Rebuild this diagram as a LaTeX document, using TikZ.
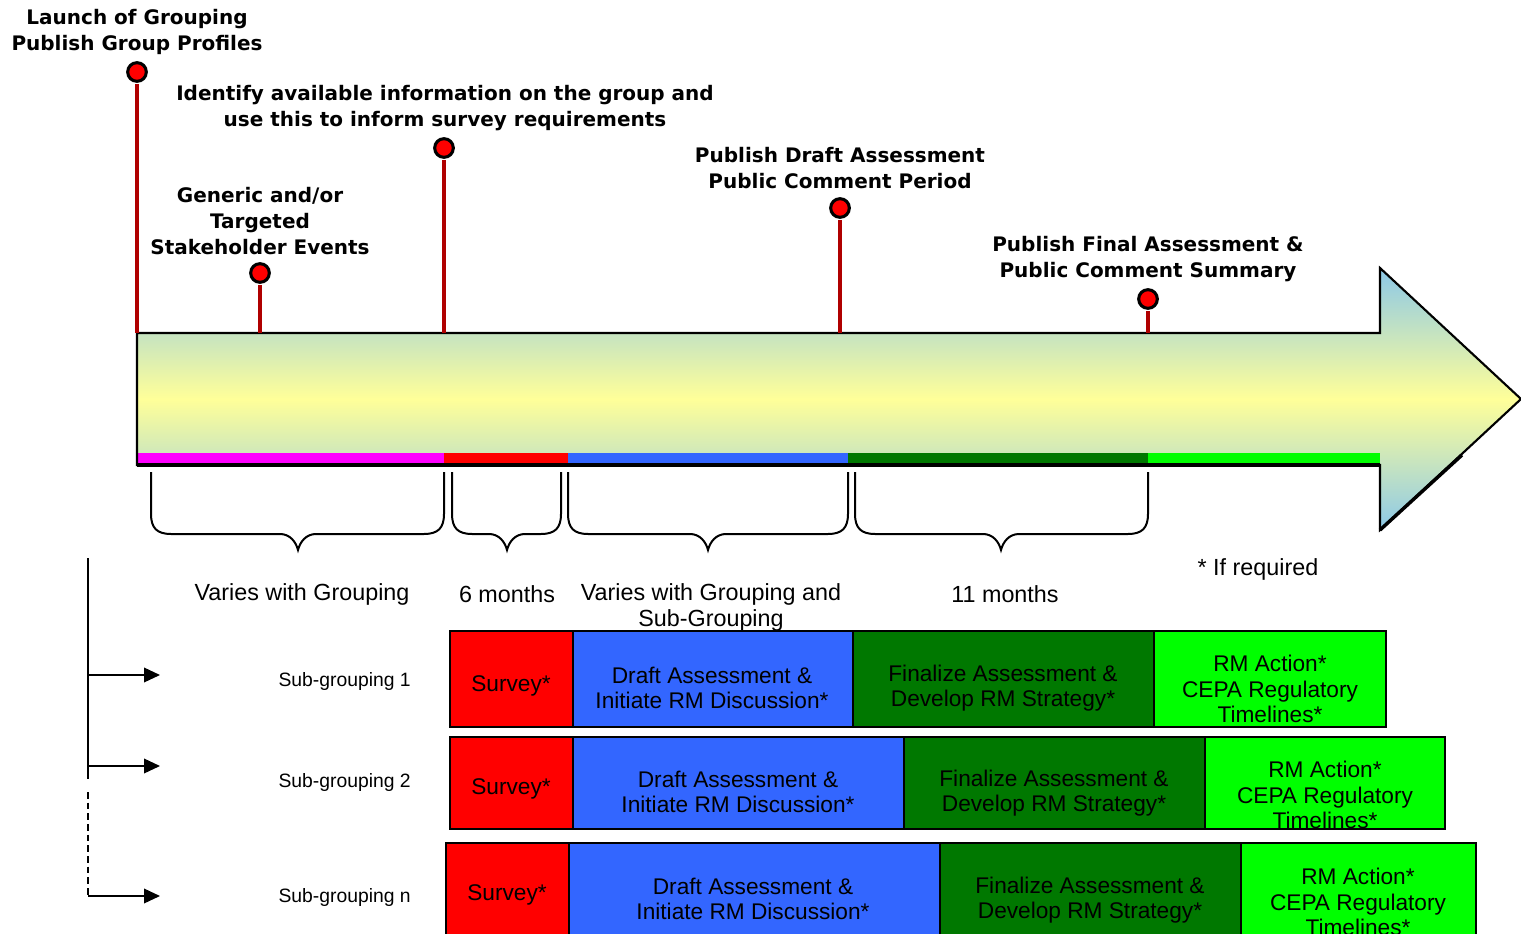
\documentclass[tikz,border=0pt]{standalone}
\usepackage{fontspec}
\setmainfont{Liberation Sans}
\newfontfamily\dvs{DejaVu Sans}
\usetikzlibrary{arrows.meta}
\definecolor{stemred}{HTML}{B00000}
\definecolor{pinred}{HTML}{FF0000}
\definecolor{arrblue}{HTML}{8CC8E8}
\definecolor{arryel}{HTML}{FFFF99}
\definecolor{bblue}{HTML}{3366FF}
\definecolor{dgreen}{HTML}{007800}
\definecolor{lgreen}{HTML}{00FF00}
\definecolor{magen}{HTML}{FF00FF}
\tikzset{
 lbl/.style={font=\dvs\bfseries\fontsize{15}{19.5}\selectfont, align=center, inner sep=0pt},
 pinnode/.style={circle, fill=pinred, draw=black, line width=2.3pt, minimum size=14pt, inner sep=0pt},
 stem/.style={draw=stemred, line width=2.8pt, shorten <=1.1pt},
 bracestyle/.style={draw=black, line width=1.5pt},
 note/.style={font=\fontsize{17.5}{19.5}\selectfont, align=center, inner sep=0pt},
 sbox/.style={draw=black, line width=1.5pt, inner sep=0pt},
 btxt/.style={font=\fontsize{17}{19.2}\selectfont, align=center, inner sep=0pt},
 sublbl/.style={font=\fontsize{14.5}{16}\selectfont, anchor=east, inner sep=0pt},
 arr/.style={draw=black, line width=1.1pt, -{Triangle[length=12pt,width=11pt]}},
}
\newcommand\brc[3]{\draw[bracestyle] (#1,472) -- (#1,514) .. controls (#1,528) and ({#1+6},534) .. ({#1+20},534) -- ({#3-18},534) .. controls ({#3-8},534) and ({#3-2},542) .. (#3,550) .. controls ({#3+2},542) and ({#3+8},534) .. ({#3+18},534) -- ({#2-20},534) .. controls ({#2-6},534) and (#2,528) .. (#2,514) -- (#2,472);}
\newcommand\bx[9]{%
 \node[sbox,fill=#6,minimum width={(#4-#2)*0.75pt},minimum height={(#5-#3)*0.75pt}] (#1) at ({(#2+#4)/2},{(#3+#5)/2}) {};
 \node[btxt] (#1t) at (#7,{#8+2}) {#9};}
\begin{document}
\begin{tikzpicture}[x=0.75pt,y=-0.75pt]
\useasboundingbox (0,0) rectangle (1521,934);
% big arrow
\path[top color=arrblue, bottom color=arrblue, middle color=arryel] (137,333) -- (1380,333) -- (1380,268) -- (1521,399) -- (1380,530) -- (1380,465) -- (137,465) -- cycle;
\fill[magen] (137,453) rectangle (444,465);
\fill[red] (444,453) rectangle (568,465);
\fill[bblue] (568,453) rectangle (848,465);
\fill[dgreen] (848,453) rectangle (1148,465);
\fill[lgreen] (1148,453) rectangle (1380,465);
\draw[line width=1.6pt, line join=miter] (137,333) -- (1380,333) -- (1380,268) -- (1521,399) -- (1380,530) -- (1380,465) -- (137,465) -- cycle;
\draw[line width=2.6pt] (137,465) -- (1380,465);
\draw[line width=2.6pt] (1380,530) -- (1462,455);
% pins
\node[pinnode] (p1) at (137,72) {};
\node[pinnode] (p2) at (260,273) {};
\node[pinnode] (p3) at (444,148) {};
\node[pinnode] (p4) at (840,208) {};
\node[pinnode] (p5) at (1148,299) {};
\coordinate (s1) at (137,333);
\coordinate (s2) at (260,333);
\coordinate (s3) at (444,333);
\coordinate (s4) at (840,333);
\coordinate (s5) at (1148,333);
\draw[stem] (p1) -- (s1);
\draw[stem] (p2) -- (s2);
\draw[stem] (p3) -- (s3);
\draw[stem] (p4) -- (s4);
\draw[stem] (p5) -- (s5);
% labels
\node[lbl] (l1) at (137,32) {Launch of Grouping\\Publish Group Profiles};
\node[lbl] (l2) at (445,108) {Identify available information on the group and\\use this to inform survey requirements};
\node[lbl] (l3) at (260,221) {Generic and/or\\Targeted\\Stakeholder Events};
\node[lbl] (l4) at (840,168) {Publish Draft Assessment\\Public Comment Period};
\node[lbl] (l5) at (1148,259) {Publish Final Assessment \&\\Public Comment Summary};
% braces
\brc{151}{444}{298}
\brc{452}{561}{507}
\brc{568}{848}{708}
\brc{855}{1148}{1001}
\node[note] (n1) at (302,594) {Varies with Grouping};
\node[note] (n2) at (507,594) {6 months};
\node[note] (n3) at (711,607) {Varies with Grouping and\\Sub-Grouping};
\node[note] (n4) at (1005,594) {11 months};
\node[note] (n5) at (1258,569) {* If required};
% left bracket
\coordinate (v1) at (88,558);
\coordinate (v2) at (88,779);
\draw[line width=2.2pt] (v1) -- (v2);
\coordinate (a1) at (88,675);
\coordinate (a1e) at (160,675);
\coordinate (a2) at (88,766);
\coordinate (a2e) at (160,766);
\coordinate (d1) at (88,792);
\coordinate (d2) at (88,896);
\coordinate (a3e) at (160,896);
\draw[arr] (a1) -- (a1e);
\draw[arr] (a2) -- (a2e);
\draw[dash pattern=on 5pt off 3pt, line width=1.4pt] (d1) -- (d2);
\draw[arr] (d2) -- (a3e);
\node[sublbl] (sg1) at (411,681) {Sub-grouping 1};
\node[sublbl] (sg2) at (411,782) {Sub-grouping 2};
\node[sublbl] (sg3) at (411,897) {Sub-grouping n};
% rows
\bx{r1a}{450}{631}{573}{727}{red}{511}{684}{Survey*}
\bx{r1b}{573}{631}{853}{727}{bblue}{712}{686}{Draft Assessment \&\\Initiate RM Discussion*}
\bx{r1c}{853}{631}{1154}{727}{dgreen}{1003}{686}{Finalize Assessment \&\\Develop RM Strategy*}
\bx{r1d}{1154}{631}{1386}{727}{lgreen}{1270}{687}{RM Action*\\CEPA Regulatory\\Timelines*}
\bx{r2a}{450}{737}{573}{829}{red}{511}{787}{Survey*}
\bx{r2b}{573}{737}{904}{829}{bblue}{738}{790}{Draft Assessment \&\\Initiate RM Discussion*}
\bx{r2c}{904}{737}{1205}{829}{dgreen}{1054}{791}{Finalize Assessment \&\\Develop RM Strategy*}
\bx{r2d}{1205}{737}{1445}{829}{lgreen}{1325}{793}{RM Action*\\CEPA Regulatory\\Timelines*}
\bx{r3a}{446}{843}{569}{960}{red}{507}{893}{Survey*}
\bx{r3b}{569}{843}{940}{960}{bblue}{753}{897}{Draft Assessment \&\\Initiate RM Discussion*}
\bx{r3c}{940}{843}{1241}{960}{dgreen}{1090}{898}{Finalize Assessment \&\\Develop RM Strategy*}
\bx{r3d}{1241}{843}{1476}{960}{lgreen}{1358}{900}{RM Action*\\CEPA Regulatory\\Timelines*}
\end{tikzpicture}
\end{document}
